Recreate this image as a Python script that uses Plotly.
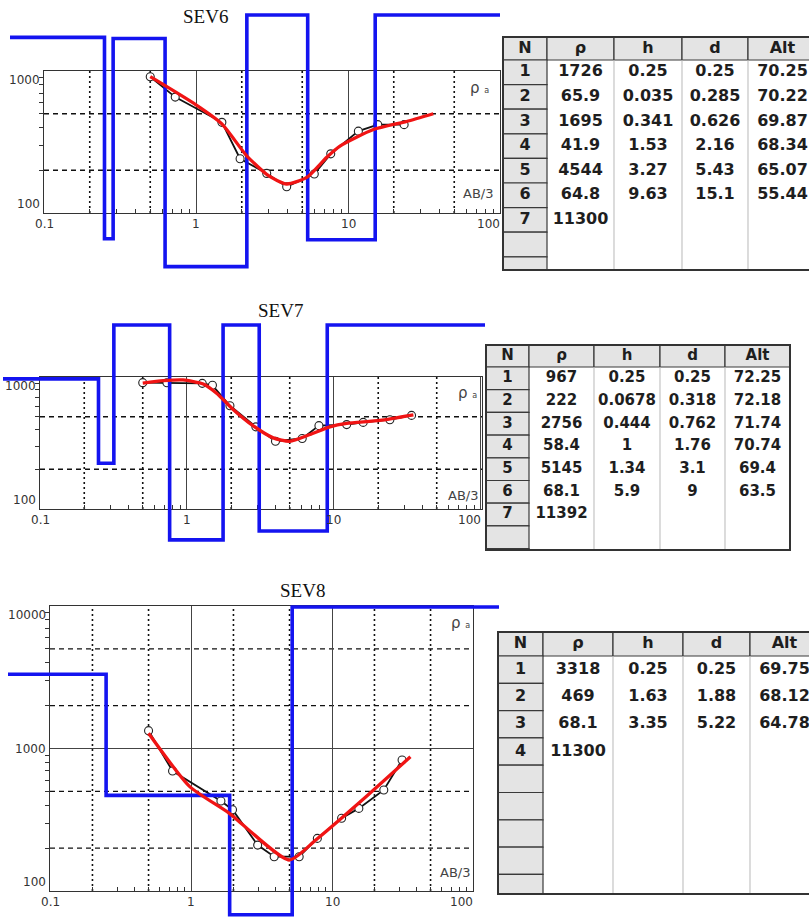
import math
import plotly.graph_objects as go

# ---------------- data ----------------
table_header = ["N", "ρ", "h", "d", "Alt"]
x_tick_vals = [0.1, 1, 10, 100]
x_tick_text = ["0.1", "1", "10", "100"]

# SEV6 layered model
sev6_rho = [1726, 65.9, 1695, 41.9, 4544, 64.8, 11300]
sev6_h = [0.25, 0.035, 0.341, 1.53, 3.27, 9.63]
sev6_d = [0.25, 0.285, 0.626, 2.16, 5.43, 15.1]
sev6_alt = [70.25, 70.22, 69.87, 68.34, 65.07, 55.44]
# SEV6 field data (AB/3, apparent resistivity)
sev6_field_ab = [0.5, 0.73, 1.48, 1.95, 2.92, 3.95, 6.0, 7.7, 11.7, 15.7, 23.4]
sev6_field_rho = [912, 655, 435, 241, 190, 153, 188, 261, 377, 419, 419]
# SEV6 fitted curve
sev6_fit_ab = [0.5, 1.0, 1.48, 2.16, 3.0, 3.95, 5.35, 7.25, 8.85, 14.7, 24.3, 36.4]
sev6_fit_rho = [912, 578, 424, 252, 183, 160, 178, 247, 296, 387, 441, 500]

# SEV7 layered model
sev7_rho = [967, 222, 2756, 58.4, 5145, 68.1, 11392]
sev7_h = [0.25, 0.0678, 0.444, 1, 1.34, 5.9]
sev7_d = [0.25, 0.318, 0.762, 1.76, 3.1, 9]
sev7_alt = [72.25, 72.18, 71.74, 70.74, 69.4, 63.5]
sev7_field_ab = [0.5, 0.73, 1.27, 1.49, 1.96, 2.94, 4.0, 6.08, 7.9, 12.2, 15.8, 24.0, 33.7]
sev7_field_rho = [906, 905, 895, 865, 605, 419, 326, 342, 428, 436, 453, 475, 512]
sev7_fit_ab = [0.5, 0.69, 0.94, 1.29, 1.59, 2.07, 2.81, 3.86, 5.0, 6.86, 9.38, 12.2, 20.5, 34.7]
sev7_fit_rho = [900, 938, 950, 886, 754, 565, 428, 346, 326, 367, 419, 445, 469, 517]

# SEV8 layered model
sev8_rho = [3318, 469, 68.1, 11300]
sev8_h = [0.25, 1.63, 3.35]
sev8_d = [0.25, 1.88, 5.22]
sev8_alt = [69.75, 68.12, 64.78]
sev8_field_ab = [0.5, 0.74, 1.63, 1.97, 2.97, 3.89, 5.85, 7.87, 11.7, 15.5, 23.3, 31.4]
sev8_field_rho = [1334, 695, 428, 372, 210, 174, 174, 234, 324, 380, 512, 830]
sev8_fit_ab = [0.5, 0.98, 1.87, 4.97, 7.67, 16.4, 36]
sev8_fit_rho = [1279, 540, 351, 165, 228, 435, 875]

# ---------------- layout helpers ----------------
W, H = 809, 918


def fx(px):
    return px / W


def fy(py):
    return 1 - py / H


def fmt(v):
    return f"{v:g}"


panels = [
    dict(title="SEV6", rho=sev6_rho, h=sev6_h, d=sev6_d, alt=sev6_alt,
         fab=sev6_field_ab, frho=sev6_field_rho, mab=sev6_fit_ab, mrho=sev6_fit_rho,
         frame=(44, 71, 500, 213), xr=(-1, 2), yr=(2, 3),
         box=(10, 13, 500, 275), ceiling=2480,
         title_xy=(205, 17), rho_xy=(480, 88), ab_xy=(478, 193),
         table=(503, 37, 270), colw=[44, 67, 68, 66, 69], hh=23, rh=24.6,
         tfont=16, fitshape="spline"),
    dict(title="SEV7", rho=sev7_rho, h=sev7_h, d=sev7_d, alt=sev7_alt,
         fab=sev7_field_ab, frho=sev7_field_rho, mab=sev7_fit_ab, mrho=sev7_fit_rho,
         frame=(40, 377, 482, 509), xr=(-1, 2.007), yr=(2, 3),
         box=(3, 323, 485, 548), ceiling=2480,
         title_xy=(280, 310), rho_xy=(467, 393), ab_xy=(463, 495),
         table=(486, 345, 550), colw=[43, 65, 66, 65, 65], hh=22, rh=22.7,
         tfont=15, fitshape="spline"),
    dict(title="SEV8", rho=sev8_rho, h=sev8_h, d=sev8_d, alt=sev8_alt,
         fab=sev8_field_ab, frho=sev8_field_rho, mab=sev8_fit_ab, mrho=sev8_fit_rho,
         frame=(50, 606, 473, 891), xr=(-1, 2), yr=(2, 4),
         box=(8, 605, 499, 918), ceiling=9840,
         title_xy=(302, 590), rho_xy=(460, 623), ab_xy=(455, 872),
         table=(498, 632, 894), colw=[45, 70, 70, 67, 69], hh=24, rh=27.3,
         tfont=16, fitshape="spline"),
]

fig = go.Figure()
layout = dict(template="none", width=W, height=H, margin=dict(l=0, r=0, t=0, b=0, pad=0),
              paper_bgcolor="white", plot_bgcolor="rgba(0,0,0,0)",
              showlegend=False, annotations=[], shapes=[])

TICKFONT = dict(family="DejaVu Sans", size=12, color="#333333")
GRID_DARK = "#111111"

for i, p in enumerate(panels):
    km, kb, kt = 2 * i + 1, 2 * i + 2, 7 + i
    xm = "x" if km == 1 else f"x{km}"
    ym = "y" if km == 1 else f"y{km}"
    xb, yb = f"x{kb}", f"y{kb}"
    xt, yt = f"x{kt}", f"y{kt}"
    xm_name = "xaxis" if km == 1 else f"xaxis{km}"
    ym_name = "yaxis" if km == 1 else f"yaxis{km}"

    L, T, R, B = p["frame"]
    x0r, x1r = p["xr"]
    y0r, y1r = p["yr"]

    minor_x = [m * 10 ** k for k in range(math.floor(x0r), math.ceil(x1r)) for m in range(2, 10)]
    minor_y = [m * 10 ** k for k in range(math.floor(y0r), math.ceil(y1r)) for m in range(2, 10)]
    xdec = [v for v in x_tick_vals if x0r - 1e-9 <= math.log10(v) <= x1r + 1e-9]
    ydec = [10 ** k for k in range(int(y0r), int(y1r) + 1)]

    layout[xm_name] = dict(
        type="log", range=[x0r, x1r], domain=[fx(L), fx(R)], anchor=ym, automargin=False,
        showline=True, mirror=True, linecolor="#333333", linewidth=1.3,
        tickvals=xdec, showticklabels=False, ticks="",
        showgrid=True, gridcolor="#444444", gridwidth=1, zeroline=False,
        minor=dict(tickvals=minor_x, ticks="inside", ticklen=4, tickcolor="#333333", showgrid=False),
    )
    layout[ym_name] = dict(
        type="log", range=[y0r, y1r], domain=[fy(B), fy(T)], anchor=xm, automargin=False,
        showline=True, mirror=True, linecolor="#333333", linewidth=1.3,
        tickvals=ydec, showticklabels=False, ticks="",
        showgrid=True, gridcolor="#444444", gridwidth=1, zeroline=False,
        minor=dict(tickvals=minor_y, ticks="outside", ticklen=4, tickcolor="#333333", showgrid=False),
    )

    # tick labels kept inside the frame extent (as the sounding software does)
    for v in ydec:
        lv = math.log10(v)
        anc = "top" if abs(lv - y1r) < 1e-9 else ("bottom" if abs(lv - y0r) < 1e-9 else "middle")
        layout["annotations"].append(dict(
            text=str(v), x=fx(L - 2), xref="paper", xanchor="right",
            y=lv, yref=ym, yanchor=anc, showarrow=False, font=TICKFONT))
    for v in xdec:
        lv = math.log10(v)
        t = x_tick_text[x_tick_vals.index(v)]
        anc = "right" if v == xdec[-1] else "center"
        layout["annotations"].append(dict(
            text=t, x=lv, xref=xm, xanchor=anc, xshift=(2 if anc == "right" else 0),
            y=fy(B + 2), yref="paper", yanchor="top", showarrow=False, font=TICKFONT))

    # dotted / dashed intermediate grid (2 and 5 multiples)
    for k in range(math.floor(x0r), math.ceil(x1r)):
        for m in (2, 5):
            v = m * 10 ** k
            if x0r < math.log10(v) < x1r:
                layout["shapes"].append(dict(
                    type="line", xref=xm, yref=f"{ym} domain", x0=v, x1=v, y0=0, y1=1,
                    line=dict(color=GRID_DARK, width=1.6, dash="2px,3px"), layer="below"))
    for k in range(math.floor(y0r), math.ceil(y1r)):
        for m in (2, 5):
            v = m * 10 ** k
            if y0r < math.log10(v) < y1r:
                layout["shapes"].append(dict(
                    type="line", xref=f"{xm} domain", yref=ym, x0=0, x1=1, y0=v, y1=v,
                    line=dict(color=GRID_DARK, width=1.3, dash="5px,4px"), layer="below"))

    # extended (overlay) axes for the model line: same scale, larger box
    bl, bt, br, bb = p["box"]
    sx = (x1r - x0r) / (R - L)
    sy = (y1r - y0r) / (B - T)
    bx_range = [x0r - (L - bl) * sx, x1r + (br - R) * sx]
    by_range = [y0r - (bb - B) * sy, y1r + (T - bt) * sy]
    layout[f"xaxis{kb}"] = dict(type="log", range=bx_range, domain=[fx(bl), fx(br)],
                                anchor=yb, visible=False, showgrid=False, automargin=False)
    layout[f"yaxis{kb}"] = dict(type="log", range=by_range, domain=[fy(bb), fy(bt)],
                                anchor=xb, visible=False, showgrid=False, automargin=False)

    # field data (black line + open circles)
    fig.add_trace(go.Scatter(
        x=p["fab"], y=p["frho"], xaxis=xm, yaxis=ym, mode="lines+markers",
        line=dict(color="#111111", width=1.8),
        marker=dict(symbol="circle", size=8, color="white", line=dict(color="#222222", width=1.1)),
        hoverinfo="skip", cliponaxis=False))

    # layered model step line built from the table (rho, depth)
    ceil_v = p["ceiling"]
    xs = [10 ** bx_range[0]]
    ys = [min(p["rho"][0], ceil_v)]
    for j, dj in enumerate(p["d"]):
        xs += [dj, dj]
        ys += [min(p["rho"][j], ceil_v), min(p["rho"][j + 1], ceil_v)]
    xs.append(10 ** bx_range[1])
    ys.append(min(p["rho"][-1], ceil_v))
    fig.add_trace(go.Scatter(
        x=xs, y=ys, xaxis=xb, yaxis=yb, mode="lines",
        line=dict(color="#1414f0", width=3.6), hoverinfo="skip"))

    # fitted curve
    fig.add_trace(go.Scatter(
        x=p["mab"], y=p["mrho"], xaxis=xb, yaxis=yb, mode="lines",
        line=dict(color="#f01414", width=3.3, shape=p["fitshape"], smoothing=0.6),
        hoverinfo="skip"))

    # texts
    tx, ty = p["title_xy"]
    layout["annotations"].append(dict(
        text=p["title"], x=fx(tx), y=fy(ty), xref="paper", yref="paper",
        xanchor="center", yanchor="middle", showarrow=False,
        font=dict(family="Liberation Serif", size=19, color="#111111")))
    rx, ry = p["rho_xy"]
    layout["annotations"].append(dict(
        text="ρ <span style='font-size:8px'>a</span>", x=fx(rx), y=fy(ry), xref="paper", yref="paper",
        xanchor="center", yanchor="middle", showarrow=False,
        font=dict(family="DejaVu Sans", size=15, color="#444444")))
    ax_, ay_ = p["ab_xy"]
    layout["annotations"].append(dict(
        text="AB/3", x=fx(ax_), y=fy(ay_), xref="paper", yref="paper",
        xanchor="center", yanchor="middle", showarrow=False,
        font=dict(family="DejaVu Sans", size=13, color="#444444")))

    # ---------- table drawn on its own pixel-unit axes ----------
    tl, tt, tb = p["table"]
    colw = p["colw"]
    tw = sum(colw)
    th = tb - tt
    hh, rh = p["hh"], p["rh"]
    dom_l, dom_r = tl - 2, min(tl + tw + 2, W)
    dom_t, dom_b = tt - 2, min(tb + 2, H)
    layout[f"xaxis{kt}"] = dict(range=[dom_l - tl, dom_r - tl], domain=[fx(dom_l), fx(dom_r)],
                                anchor=yt, visible=False, showgrid=False, automargin=False)
    layout[f"yaxis{kt}"] = dict(range=[dom_b - tt, dom_t - tt], domain=[fy(dom_b), fy(dom_t)],
                                anchor=xt, visible=False, showgrid=False, automargin=False)
    edges = [0]
    for w in colw:
        edges.append(edges[-1] + w)
    centers = [(edges[c] + edges[c + 1]) / 2 for c in range(len(colw))]
    nrows_vis = math.ceil((th - hh) / rh)

    cellfill = "#e4e4e4"
    dark = "#3a3a3a"
    # header cells
    for c in range(len(colw)):
        layout["shapes"].append(dict(type="rect", xref=xt, yref=yt, x0=edges[c], x1=edges[c + 1],
                                     y0=0, y1=hh, fillcolor=cellfill, line=dict(color=dark, width=1.2),
                                     layer="below"))
    # N column cells
    for r in range(nrows_vis):
        layout["shapes"].append(dict(type="rect", xref=xt, yref=yt, x0=0, x1=colw[0],
                                     y0=hh + r * rh, y1=min(hh + (r + 1) * rh, th),
                                     fillcolor=cellfill, line=dict(color=dark, width=1.2),
                                     layer="below"))
    # light column separators in the value area
    for c in range(2, len(colw)):
        layout["shapes"].append(dict(type="line", xref=xt, yref=yt, x0=edges[c], x1=edges[c],
                                     y0=hh, y1=th, line=dict(color="#c4c4c4", width=1.2),
                                     layer="below"))
    # outer frame
    layout["shapes"].append(dict(type="rect", xref=xt, yref=yt, x0=0, x1=tw, y0=0, y1=th,
                                 line=dict(color="#333333", width=2), layer="below"))

    nlay = len(p["rho"])
    col_vals = [
        [str(j + 1) for j in range(nlay)],
        [fmt(v) for v in p["rho"]],
        [fmt(v) for v in p["h"]],
        [fmt(v) for v in p["d"]],
        [fmt(v) for v in p["alt"]],
    ]
    tx_, ty_, tt_ = [], [], []
    for c, lab in enumerate(table_header):
        tx_.append(centers[c]); ty_.append(hh / 2); tt_.append(f"<b>{lab}</b>")
    for c, vals in enumerate(col_vals):
        for r, v in enumerate(vals):
            tx_.append(centers[c]); ty_.append(hh + (r + 0.5) * rh); tt_.append(f"<b>{v}</b>")
    fig.add_trace(go.Scatter(
        x=tx_, y=ty_, text=tt_, xaxis=xt, yaxis=yt, mode="text",
        textposition="middle center", cliponaxis=False,
        textfont=dict(family="DejaVu Sans", size=p["tfont"], color="#1e1e1e"),
        hoverinfo="skip"))

fig.update_layout(**layout)
fig.write_html("out.html")
